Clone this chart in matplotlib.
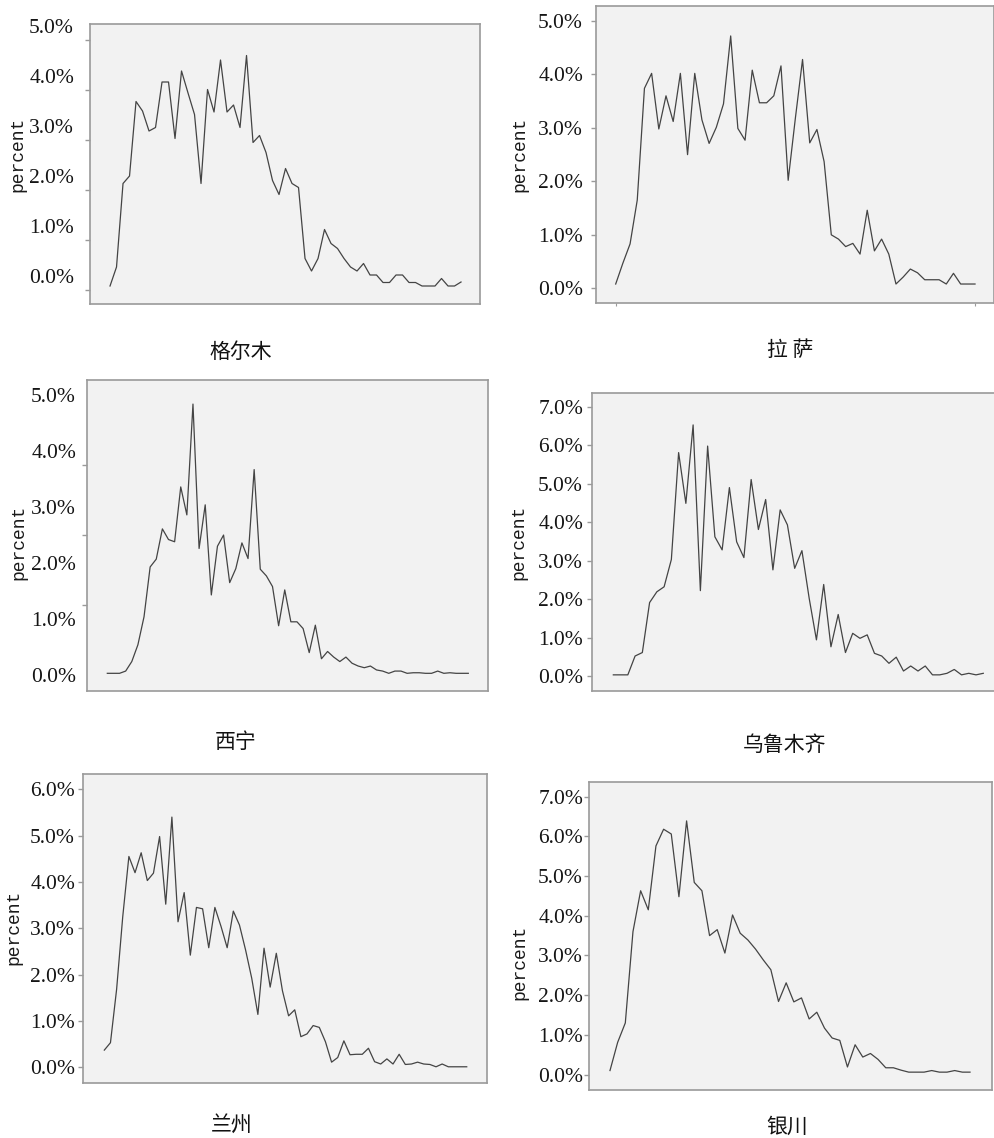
import matplotlib
matplotlib.use('Agg')
import matplotlib.pyplot as plt
import matplotlib.transforms as mtransforms
import numpy as np

plt.rcParams['font.family'] = ['Noto Sans CJK SC', 'DejaVu Sans']

# ---------------- data (percent) ----------------
golmud = [0.08, 0.46, 2.13, 2.28, 3.77, 3.58, 3.18, 3.25, 4.16, 4.16,
          3.03, 4.38, 3.94, 3.51, 2.13, 4.01, 3.56, 4.60, 3.56, 3.70,
          3.25, 4.69, 2.95, 3.09, 2.75, 2.19, 1.91, 2.43, 2.13, 2.05,
          0.63, 0.38, 0.63, 1.21, 0.93, 0.83, 0.63, 0.46, 0.38, 0.53,
          0.30, 0.30, 0.15, 0.15, 0.30, 0.30, 0.15, 0.15, 0.08, 0.08,
          0.08, 0.23, 0.08, 0.08, 0.16]
lhasa = [0.08, 0.47, 0.83, 1.65, 3.74, 4.02, 2.98, 3.60, 3.12, 4.02,
         2.50, 4.02, 3.15, 2.71, 3.01, 3.45, 4.72, 2.99, 2.77, 4.08,
         3.47, 3.47, 3.60, 4.16, 2.02, 3.18, 4.28, 2.72, 2.97, 2.37,
         1.00, 0.92, 0.78, 0.84, 0.64, 1.46, 0.70, 0.92, 0.64, 0.08,
         0.21, 0.36, 0.29, 0.16, 0.16, 0.16, 0.08, 0.28, 0.08, 0.08,
         0.08]
xining = [0.03, 0.03, 0.03, 0.07, 0.24, 0.54, 1.04, 1.93, 2.07, 2.61,
          2.42, 2.38, 3.36, 2.86, 4.84, 2.26, 3.04, 1.43, 2.30, 2.50,
          1.65, 1.90, 2.36, 2.08, 3.67, 1.89, 1.77, 1.58, 0.88, 1.52,
          0.95, 0.95, 0.83, 0.40, 0.89, 0.29, 0.42, 0.32, 0.24, 0.32,
          0.21, 0.16, 0.13, 0.16, 0.09, 0.07, 0.03, 0.07, 0.07, 0.03,
          0.04, 0.04, 0.03, 0.03, 0.07, 0.03, 0.04, 0.03, 0.03, 0.03]
urumqi = [0.03, 0.03, 0.03, 0.52, 0.61, 1.91, 2.19, 2.32, 3.03, 5.81,
          4.49, 6.53, 2.22, 5.98, 3.62, 3.28, 4.90, 3.49, 3.08, 5.11,
          3.81, 4.59, 2.76, 4.32, 3.93, 2.80, 3.26, 2.02, 0.94, 2.38,
          0.76, 1.60, 0.61, 1.11, 0.98, 1.07, 0.59, 0.52, 0.33, 0.49,
          0.13, 0.26, 0.13, 0.26, 0.03, 0.03, 0.07, 0.17, 0.03, 0.07,
          0.03, 0.07]
lanzhou = [0.37, 0.53, 1.68, 3.25, 4.55, 4.20, 4.63, 4.03, 4.19, 4.98,
           3.52, 5.40, 3.14, 3.77, 2.42, 3.45, 3.42, 2.58, 3.45, 3.04,
           2.58, 3.37, 3.07, 2.53, 1.92, 1.14, 2.57, 1.73, 2.46, 1.65,
           1.11, 1.24, 0.66, 0.72, 0.90, 0.86, 0.55, 0.11, 0.21, 0.57,
           0.27, 0.28, 0.28, 0.41, 0.12, 0.07, 0.18, 0.07, 0.28, 0.06,
           0.07, 0.11, 0.07, 0.06, 0.01, 0.07, 0.01, 0.01, 0.01, 0.01]
yinchuan = [0.10, 0.81, 1.30, 3.60, 4.63, 4.15, 5.76, 6.18, 6.06, 4.48,
            6.39, 4.84, 4.63, 3.50, 3.65, 3.06, 4.02, 3.56, 3.39, 3.16,
            2.89, 2.64, 1.84, 2.31, 1.83, 1.93, 1.40, 1.57, 1.17, 0.92,
            0.86, 0.19, 0.75, 0.44, 0.53, 0.38, 0.17, 0.17, 0.11, 0.06,
            0.06, 0.06, 0.10, 0.06, 0.06, 0.10, 0.06, 0.06]

titles = ['格尔木', '拉 萨', '西宁', '乌鲁木齐', '兰州', '银川']
labels5 = ['0.0%', '1.0%', '2.0%', '3.0%', '4.0%', '5.0%']
labels6 = labels5 + ['6.0%']
labels7 = labels6 + ['7.0%']

series = [golmud, lhasa, xining, urumqi, lanzhou, yinchuan]
ticklabels = [labels5, labels5, labels5, labels7, labels6, labels7]

# ---------------- layout (pixels) ----------------
W, H = 995, 1138
layout = [
    dict(box=(90, 480, 24, 304), ylim=(-0.28, 5.32), xlim=(-3.08, 56.92), gap=16, off=14,
         title=(241, 352), ylab=(18, 154)),
    dict(box=(596, 994, 6, 303), ylim=(-0.275, 5.28), xlim=(-2.74, 52.64), gap=13, off=0,
         title=(790, 350), ylab=(520, 154)),
    dict(box=(87, 488, 380, 691), ylim=(-0.286, 5.27), xlim=(-3.32, 62.22), gap=11, off=0,
         title=(236, 742), ylab=(19, 542)),
    dict(box=(592, 998, 393, 691), ylim=(-0.39, 7.36), xlim=(-2.94, 53.03), gap=9, off=0,
         title=(785, 745), ylab=(519, 542)),
    dict(box=(83, 487, 774, 1083), ylim=(-0.34, 6.33), xlim=(-3.47, 62.3), gap=8, off=0,
         title=(232, 1125), ylab=(14, 927)),
    dict(box=(589, 992, 782, 1090), ylim=(-0.39, 7.37), xlim=(-2.74, 49.87), gap=6, off=0,
         title=(787, 1127), ylab=(520, 962)),
]

fig = plt.figure(figsize=(W / 100, H / 100), dpi=100)
fig.patch.set_facecolor('white')

spine_col = '#9a9a9a'
line_col = '#444444'
ticklen_px = 5

for i, (vals, tl, lay) in enumerate(zip(series, ticklabels, layout)):
    l, r, t, b = lay['box']
    ax = fig.add_axes([l / W, 1 - b / H, (r - l) / W, (b - t) / H])
    ax.set_facecolor('#f2f2f2')
    x = np.arange(len(vals))
    ax.plot(x, vals, color=line_col, lw=0.9)
    ax.set_xlim(*lay['xlim'])
    ax.set_ylim(*lay['ylim'])
    for s in ax.spines.values():
        s.set_color(spine_col)
        s.set_linewidth(1.2)
    ax.set_xticks([])
    pad_pt = max(0.5, (lay['gap'] - ticklen_px) / 1.389)
    yt = np.arange(len(tl))
    if i == 2:
        ax.set_yticks(yt)
        ax.set_yticklabels(tl)
        ax.tick_params(axis='y', which='major', length=0, pad=pad_pt + ticklen_px / 1.389)
        ax.set_yticks([0, 1.25, 2.5, 3.75, 5.0], minor=True)
        ax.tick_params(axis='y', which='minor', length=ticklen_px / 1.389,
                       color=spine_col, width=1.0)
    else:
        ax.set_yticks(yt)
        ax.set_yticklabels(tl)
        ax.tick_params(axis='y', length=ticklen_px / 1.389, color=spine_col,
                       width=1.0, pad=pad_pt)
    if i == 1:
        ax.set_xticks([0, len(vals) - 1])
        ax.set_xticklabels([])
        ax.tick_params(axis='x', length=2.5, color=spine_col, width=0.8)
    for lab in ax.get_yticklabels():
        lab.set_fontfamily(['Liberation Serif', 'DejaVu Serif'])
        lab.set_fontsize(15.5)
        lab.set_color('#151515')
        if lay['off']:
            lab.set_transform(lab.get_transform() +
                              mtransforms.ScaledTranslation(0, lay['off'] / 100, fig.dpi_scale_trans))
    tx, ty = lay['title']
    fig.text(tx / W, 1 - ty / H, titles[i], ha='center', va='center', fontsize=15,
             color='#111111', family=['Noto Sans CJK SC', 'DejaVu Sans'])
    yx, yy = lay['ylab']
    fig.text(yx / W, 1 - yy / H, 'percent', rotation=90, ha='center', va='center',
             fontsize=13, color='#1a1a1a', family=['Liberation Mono', 'DejaVu Sans Mono'])

fig.savefig('out.png', dpi=100, facecolor='white')
